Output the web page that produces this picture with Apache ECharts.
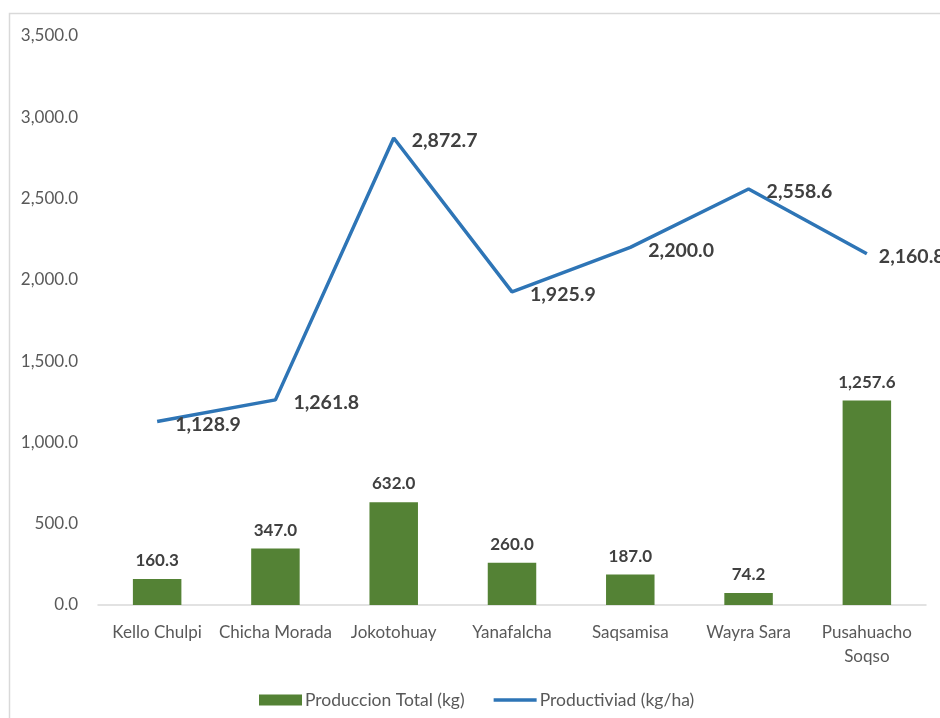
<!DOCTYPE html>
<html>
<head>
<meta charset="utf-8">
<script src="https://cdn.jsdelivr.net/npm/echarts@6/dist/echarts.min.js"></script>
<style>
  html, body { margin: 0; padding: 0; background: #fff; }
  #chart { width: 940px; height: 718px; }
</style>
</head>
<body>
<div id="chart"></div>
<script>
// Varieties and their measurements
const categories = ['Kello Chulpi', 'Chicha Morada', 'Jokotohuay', 'Yanafalcha', 'Saqsamisa', 'Wayra Sara', 'Pusahuacho Soqso'];
const produccionTotal = [160.3, 347.0, 632.0, 260.0, 187.0, 74.2, 1257.6];
const productividad = [1128.9, 1261.8, 2872.7, 1925.9, 2200.0, 2558.6, 2160.8];
const yTicks = { min: 0, max: 3500, interval: 500 };

const fmt = v => Number(v).toLocaleString('en-US', { minimumFractionDigits: 1, maximumFractionDigits: 1 });
const FONT = 'Lato';

// the last label sits a little closer to its point, near the right edge
const lineData = productividad.map((v, i) =>
  i === productividad.length - 1 ? { value: v, label: { distance: 12 } } : v);

const chart = echarts.init(document.getElementById('chart'), null, { renderer: 'canvas' });
chart.setOption({
  animation: false,
  backgroundColor: '#ffffff',
  textStyle: { fontFamily: FONT },
  graphic: [{
    type: 'rect',
    shape: { x: 9.5, y: 13.5, width: 1000, height: 800 },
    style: { fill: 'none', stroke: '#d9d9d9', lineWidth: 1.5 },
    silent: true,
    z: -10
  }],
  grid: { left: 98, right: 14, top: 36, bottom: 113, containLabel: false },
  legend: {
    top: 686,
    left: 254,
    itemGap: 29,
    itemWidth: 43,
    itemHeight: 11,
    textStyle: { color: '#595959', fontSize: 17.5, fontFamily: FONT, padding: [0, 0, 0, -2] },
    data: [
      { name: 'Produccion Total (kg)', icon: 'rect' },
      { name: 'Productiviad (kg/ha)', icon: 'path://M0,0 L42,0 L42,3.4 L0,3.4 Z' }
    ]
  },
  xAxis: {
    type: 'category',
    data: categories,
    axisLine: { lineStyle: { color: '#d9d9d9', width: 1.5 } },
    axisTick: { show: false },
    axisLabel: {
      color: '#595959', fontSize: 17, fontFamily: FONT, margin: 16, lineHeight: 24,
      interval: 0,
      formatter: v => v === 'Pusahuacho Soqso' ? 'Pusahuacho\nSoqso' : v
    }
  },
  yAxis: {
    type: 'value',
    min: yTicks.min, max: yTicks.max, interval: yTicks.interval,
    axisLine: { show: false },
    axisTick: { show: false },
    splitLine: { show: false },
    axisLabel: { color: '#595959', fontSize: 17, fontFamily: FONT, margin: 20, formatter: fmt }
  },
  series: [
    {
      name: 'Produccion Total (kg)',
      type: 'bar',
      data: produccionTotal,
      barWidth: '41%',
      itemStyle: { color: '#548235' },
      label: {
        show: true, position: 'top', distance: 10,
        color: '#404040', fontSize: 17, fontWeight: 'bold', fontFamily: FONT,
        formatter: p => fmt(p.value)
      }
    },
    {
      name: 'Productiviad (kg/ha)',
      type: 'line',
      data: lineData,
      symbol: 'circle',
      symbolSize: 0,
      showSymbol: true,
      lineStyle: { color: '#2E75B6', width: 3.5 },
      itemStyle: { color: '#2E75B6' },
      label: {
        show: true, position: 'right', distance: 18, offset: [0, 3],
        color: '#404040', fontSize: 19.5, fontWeight: 'bold', fontFamily: FONT,
        formatter: p => fmt(p.value)
      }
    }
  ]
});
</script>
</body>
</html>
